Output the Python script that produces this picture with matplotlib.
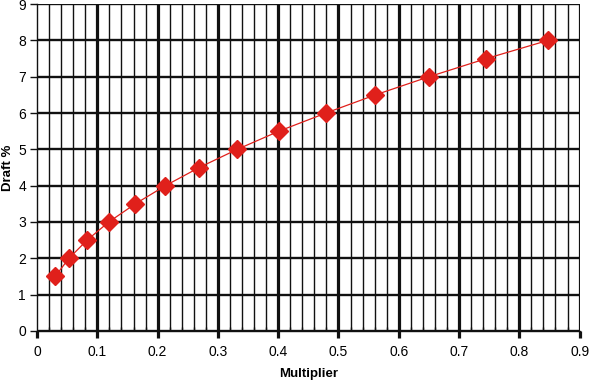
import matplotlib.pyplot as plt
from matplotlib.ticker import MultipleLocator

plt.rcParams['font.family'] = ['Liberation Sans', 'DejaVu Sans']

# Data
multiplier = [0.030, 0.053, 0.083, 0.119, 0.163, 0.213, 0.269,
              0.332, 0.401, 0.479, 0.561, 0.650, 0.745, 0.847]
draft = [1.5, 2.0, 2.5, 3.0, 3.5, 4.0, 4.5,
         5.0, 5.5, 6.0, 6.5, 7.0, 7.5, 8.0]

fig = plt.figure(figsize=(5.89, 3.82), dpi=100, facecolor='white')
ax = fig.add_axes([0.063, 0.134, 0.921, 0.855])

ax.set_xlim(0, 0.9)
ax.set_ylim(0, 9)
ax.xaxis.set_major_locator(MultipleLocator(0.1))
ax.xaxis.set_minor_locator(MultipleLocator(0.02))
ax.yaxis.set_major_locator(MultipleLocator(1))

# Gitter
ax.grid(which='major', axis='x', color='#111111', linewidth=2.3)
ax.grid(which='minor', axis='x', color='#111111', linewidth=1.0)
ax.grid(which='major', axis='y', color='#111111', linewidth=1.7)
ax.set_axisbelow(True)

ax.plot(multiplier, draft, color='#e0201b', linewidth=0.9,
        marker='D', markersize=9.5, markerfacecolor='#e0201b',
        markeredgecolor='#e0201b', zorder=3)

for s in ['top', 'right']:
    ax.spines[s].set_visible(False)
for s in ['left', 'bottom']:
    ax.spines[s].set_color('#111111')
    ax.spines[s].set_linewidth(1.0)

ax.tick_params(axis='x', which='major', direction='out', length=5,
               width=2.3, color='#111111', labelsize=10, pad=5)
ax.tick_params(axis='x', which='minor', direction='in', length=3,
               width=1, color='#111111')
ax.tick_params(axis='y', which='major', direction='out', length=5,
               width=1, color='#111111', labelsize=10, pad=3)

ax.set_xticks([i / 10 for i in range(10)])
ax.set_xticklabels(['0', '0.1', '0.2', '0.3', '0.4', '0.5',
                    '0.6', '0.7', '0.8', '0.9'])

fig.canvas.draw()
ax.xaxis.get_gridlines()[0].set_visible(False)
ax.yaxis.get_gridlines()[0].set_visible(False)

ax.set_xlabel('Multiplier', fontsize=9.5, fontweight='bold', labelpad=7)
ax.set_ylabel('Draft %', fontsize=9.5, fontweight='bold', labelpad=3)

plt.savefig('out.png', dpi=100, facecolor='white')
plt.close()
